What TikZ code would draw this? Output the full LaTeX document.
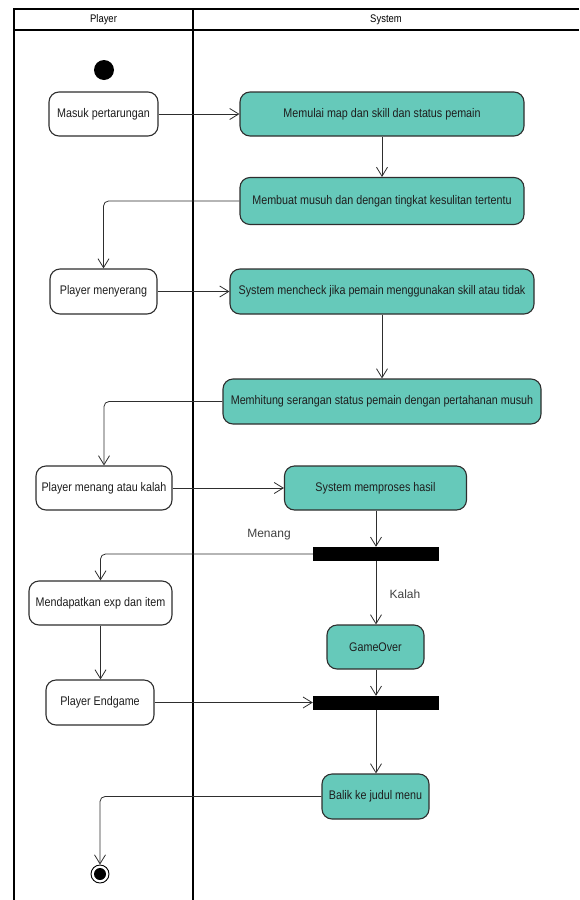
\documentclass[tikz,border=0pt]{standalone}
\usepackage{fontspec}
\setmainfont{Liberation Sans}
\newfontfamily\condfont{Liberation Sans}[FakeStretch=0.86]
\usetikzlibrary{arrows.meta,positioning}
\definecolor{teal1}{HTML}{66C9BA}
\definecolor{edge1}{HTML}{2E2E2E}
\definecolor{txt1}{HTML}{1E1E1E}
\tikzset{
  act/.style={draw=edge1, line width=1.1pt, rounded corners=10pt, align=center,
    inner sep=0pt, text=txt1, font=\condfont\fontsize{12.5}{14}\selectfont},
  useract/.style={act, fill=white},
  sysact/.style={act, fill=teal1},
  bar/.style={fill=black, draw=none, minimum width=126pt, minimum height=14pt, inner sep=0pt},
  flow/.style={draw=edge1, line width=0.8pt, rounded corners=5pt,
    -{Straight Barb[length=9pt,width=11pt,line width=0.8pt]}},
  lane/.style={draw=black, line width=1.6pt},
  guard/.style={text=black!75, font=\fontsize{12}{14}\selectfont, inner sep=0pt},
  hdr/.style={font=\condfont\fontsize{11}{13}\selectfont, inner sep=0pt}
}
\begin{document}
\begin{tikzpicture}[x=1pt,y=-1pt]
\useasboundingbox (0,0) rectangle (579,900);
% swimlanes
\draw[lane] (579,9) -- (14,9) -- (14,900);
\draw[lane] (14,30) -- (579,30);
\draw[lane] (193,9) -- (193,900);
\node[hdr] (hplayer) at (103.5,19.5) {Player};
\node[hdr] (hsystem) at (386,19.5) {System};
% nodes
\node[circle, fill=black, minimum size=20pt, inner sep=0pt] (start) at (104,70) {};
\node[useract, minimum width=109pt, minimum height=44pt] (masuk) at (103.5,114) {Masuk pertarungan};
\node[sysact, minimum width=284pt, minimum height=44pt] (memulai) at (382,114) {Memulai map dan skill dan status pemain};
\node[sysact, minimum width=284pt, minimum height=47pt] (membuat) at (382,201) {Membuat musuh dan dengan tingkat kesulitan tertentu};
\node[useract, minimum width=107pt, minimum height=45pt] (menyerang) at (103.5,291.5) {Player menyerang};
\node[sysact, minimum width=304pt, minimum height=45pt] (mencheck) at (382,291.5) {System mencheck jika pemain menggunakan skill atau tidak};
\node[sysact, minimum width=318pt, minimum height=45pt] (memhitung) at (382,401.5) {Memhitung serangan status pemain dengan pertahanan musuh};
\node[useract, minimum width=136pt, minimum height=44pt] (menang) at (104,488) {Player menang atau kalah};
\node[sysact, minimum width=182pt, minimum height=44pt] (memproses) at (375.5,488) {System memproses hasil};
\node[bar] (bar1) at (376,554) {};
\node[useract, minimum width=143pt, minimum height=44pt] (dapat) at (100.5,603) {Mendapatkan exp dan item};
\node[sysact, minimum width=97pt, minimum height=44pt] (gameover) at (375.5,647) {GameOver};
\node[bar] (bar2) at (376,703) {};
\node[useract, minimum width=108pt, minimum height=45pt] (endgame) at (100,702.5) {Player Endgame};
\node[sysact, minimum width=107pt, minimum height=45pt] (balik) at (375.5,796.5) {Balik ke judul menu};
\node[circle, draw=black, line width=0.9pt, fill=white, minimum size=18pt, inner sep=0pt] (final) at (100,874) {};
\node[circle, fill=black, minimum size=12pt, inner sep=0pt] (finaldot) at (final.center) {};
% guards
\node[guard] (lmenang) at (269,535) {Menang};
\node[guard] (lkalah) at (405,594) {Kalah};
% connectors
\draw[flow] (masuk) -- (memulai);
\draw[flow] (memulai) -- (membuat);
\draw[flow] (membuat.west) -| (menyerang.north);
\draw[flow] (menyerang) -- (mencheck);
\draw[flow] (mencheck) -- (memhitung);
\draw[flow] (memhitung.west) -| (menang.north);
\draw[flow] (menang) -- (memproses);
\draw[flow] (memproses.south -| bar1.north) -- (bar1.north);
\draw[flow] (bar1.west) -| (dapat.north);
\draw[flow] (bar1.south) -- (bar1.south |- gameover.north);
\draw[flow] (dapat) -- (dapat |- endgame.north);
\draw[flow] (gameover.south -| bar2.north) -- (bar2.north);
\draw[flow] (endgame.east) -- (endgame.east -| bar2.west);
\draw[flow] (bar2.south) -- (bar2.south |- balik.north);
\draw[flow] (balik.west) -| (final.north);
\end{tikzpicture}
\end{document}
